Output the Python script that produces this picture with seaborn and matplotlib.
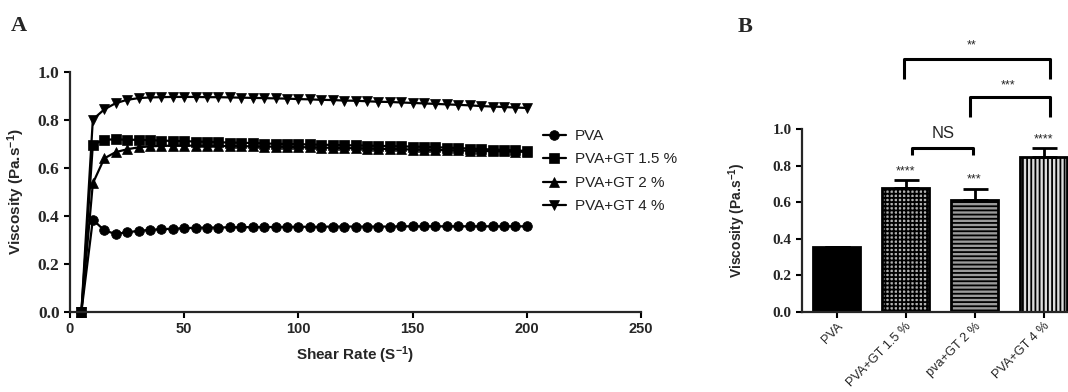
import numpy as np
import pandas as pd
import matplotlib
matplotlib.use("Agg")
import matplotlib.pyplot as plt
import seaborn as sns

# ---------------- data ----------------
shear_rate = [5, 10, 15, 20, 25, 30, 35, 40, 45, 50, 55, 60, 65, 70, 75, 80, 85, 90, 95, 100,
              105, 110, 115, 120, 125, 130, 135, 140, 145, 150, 155, 160, 165, 170, 175, 180,
              185, 190, 195, 200]
visc_pva = [0.0, 0.383, 0.338, 0.323, 0.330, 0.336, 0.340, 0.343, 0.345, 0.347, 0.349, 0.350,
            0.350, 0.351, 0.351, 0.352, 0.352, 0.352, 0.353, 0.353, 0.353, 0.353, 0.354, 0.354,
            0.354, 0.354, 0.354, 0.354, 0.355, 0.355, 0.355, 0.355, 0.355, 0.355, 0.355, 0.355,
            0.355, 0.355, 0.355, 0.355]
visc_gt15 = [0.0, 0.695, 0.716, 0.717, 0.716, 0.715, 0.714, 0.712, 0.711, 0.710, 0.708, 0.707,
             0.705, 0.704, 0.703, 0.702, 0.700, 0.699, 0.698, 0.697, 0.696, 0.695, 0.694, 0.693,
             0.692, 0.691, 0.690, 0.689, 0.688, 0.687, 0.686, 0.684, 0.683, 0.681, 0.679, 0.677,
             0.675, 0.673, 0.671, 0.669]
visc_gt2 = [0.0, 0.534, 0.638, 0.664, 0.676, 0.684, 0.688, 0.690, 0.691, 0.691, 0.691, 0.690,
            0.690, 0.689, 0.689, 0.688, 0.687, 0.687, 0.686, 0.685, 0.684, 0.683, 0.682, 0.681,
            0.680, 0.679, 0.678, 0.677, 0.676, 0.675, 0.674, 0.673, 0.672, 0.671, 0.670, 0.669,
            0.668, 0.667, 0.666, 0.665]
visc_gt4 = [0.0, 0.800, 0.842, 0.868, 0.882, 0.889, 0.892, 0.893, 0.894, 0.894, 0.894, 0.893,
            0.893, 0.892, 0.891, 0.890, 0.889, 0.888, 0.887, 0.885, 0.884, 0.882, 0.881, 0.879,
            0.878, 0.876, 0.874, 0.873, 0.871, 0.869, 0.867, 0.865, 0.863, 0.861, 0.859, 0.856,
            0.854, 0.852, 0.850, 0.848]
series_names = ["PVA", "PVA+GT 1.5 %", "PVA+GT 2 %", "PVA+GT 4 %"]

bar_labels = ["PVA", "PVA+GT 1.5 %", "pva+GT 2 %", "PVA+GT 4 %"]
bar_means = [0.355, 0.675, 0.611, 0.845]
bar_err = [0.0, 0.045, 0.063, 0.050]
bar_stars = ["", "****", "***", "****"]

# ---------------- style ----------------
sns.set_style("ticks")
plt.rcParams["font.family"] = ["Liberation Sans", "DejaVu Sans"]
plt.rcParams["mathtext.default"] = "regular"
plt.rcParams["hatch.linewidth"] = 1.3

fig = plt.figure(figsize=(10.68, 3.92), dpi=100)
W, H = 1068.0, 392.0

# ---------------- panel A ----------------
axA = fig.add_axes([70 / W, 1 - 311.5 / H, 571 / W, 240 / H])
dfA = pd.DataFrame({
    "Shear": shear_rate * 4,
    "Viscosity": visc_pva + visc_gt15 + visc_gt2 + visc_gt4,
    "Sample": sum([[n] * len(shear_rate) for n in series_names], []),
})
sns.lineplot(data=dfA, x="Shear", y="Viscosity", hue="Sample", style="Sample",
             hue_order=series_names, style_order=series_names,
             palette=["black"] * 4, markers=["o", "s", "^", "v"], dashes=False,
             linewidth=1.6, markersize=7, markeredgecolor="black", markeredgewidth=0.5,
             ax=axA, clip_on=False)
axA.set_xlim(0, 250)
axA.set_ylim(0, 1.0)
axA.set_xticks([0, 50, 100, 150, 200, 250])
axA.set_yticks([0.0, 0.2, 0.4, 0.6, 0.8, 1.0])
axA.set_yticklabels(["0.0", "0.2", "0.4", "0.6", "0.8", "1.0"])
for s in ["top", "right"]:
    axA.spines[s].set_visible(False)
for s in ["left", "bottom"]:
    axA.spines[s].set_linewidth(1.6)
axA.tick_params(direction="out", length=4, width=1.5, color="black")
for lab in axA.get_yticklabels():
    lab.set_fontfamily("Liberation Serif")
    lab.set_fontweight("bold")
    lab.set_fontsize(12.5)
for lab in axA.get_xticklabels():
    lab.set_fontweight("bold")
    lab.set_fontsize(10.5)
axA.set_xlabel("Shear Rate (S$^{-1}$)", fontsize=11, fontweight="bold", labelpad=6)
axA.set_ylabel("Viscosity (Pa.s$^{-1}$)", fontsize=11, fontweight="bold", labelpad=8)

leg = axA.legend(loc="upper left", bbox_to_anchor=(543 / W, 1 - 129 / H),
                 bbox_transform=fig.transFigure, frameon=False, fontsize=11,
                 handlelength=1.5, handletextpad=0.6, labelspacing=0.62,
                 borderpad=0, borderaxespad=0)
for t in leg.get_texts():
    t.set_color("#222222")

# ---------------- panel B ----------------
axB = fig.add_axes([802 / W, 1 - 311.7 / H, 276 / W, 1.55 * 182.7 / H])
dfB = pd.DataFrame({"Sample": bar_labels, "Viscosity": bar_means})
sns.barplot(data=dfB, x="Sample", y="Viscosity", hue="Sample", legend=False,
            palette=["black", "#b0b0b0", "#9a9a9a", "#dcdcdc"], width=0.69,
            edgecolor="black", linewidth=2.0, ax=axB)
hatches = [None, "++++", "----", "||||"]
for p, h in zip(axB.patches, hatches):
    if h:
        p.set_hatch(h)
axB.errorbar(range(len(bar_means)), bar_means,
             yerr=[[0] * len(bar_err), bar_err], fmt="none", ecolor="black",
             elinewidth=2, capsize=9, capthick=2)
axB.set_xlim(-0.5, 3.5)
axB.set_ylim(0, 1.55)
axB.set_yticks([0.0, 0.2, 0.4, 0.6, 0.8, 1.0])
axB.set_yticklabels(["0.0", "0.2", "0.4", "0.6", "0.8", "1.0"])
axB.spines["left"].set_bounds(0, 1.0)
for s in ["top", "right"]:
    axB.spines[s].set_visible(False)
for s in ["left", "bottom"]:
    axB.spines[s].set_linewidth(1.6)
axB.tick_params(direction="out", length=4, width=1.5, color="black")
axB.tick_params(axis="x", pad=2)
for lab in axB.get_yticklabels():
    lab.set_fontfamily("Liberation Serif")
    lab.set_fontweight("bold")
    lab.set_fontsize(11)
axB.set_xticks(range(4))
axB.set_xticklabels(bar_labels, rotation=45, ha="right", rotation_mode="anchor",
                    fontsize=9.2)
axB.set_xlabel("")
axB.set_ylabel("Viscosity (Pa.s$^{-1}$)", fontsize=10, fontweight="bold", labelpad=6)
axB.yaxis.set_label_coords(-0.195, 0.5 / 1.55, transform=axB.transAxes)

for i, (m, e, s) in enumerate(zip(bar_means, bar_err, bar_stars)):
    if s:
        axB.text(i, m + e + 0.05, s, ha="center", va="center", fontsize=9)

def bracket(ax, x1, x2, ytop, ybot, label, ly, lx=None, fs=9):
    ax.plot([x1, x1, x2, x2], [ybot, ytop, ytop, ybot], color="black", lw=2.2,
            clip_on=False, solid_capstyle="butt")
    ax.text((x1 + x2) / 2 if lx is None else lx, ly, label, ha="center", va="center",
            fontsize=fs, clip_on=False)

bracket(axB, 1.10, 1.98, 0.894, 0.858, "NS", 0.976, fs=12)
bracket(axB, 1.93, 3.09, 1.173, 1.067, "***", 1.241, lx=2.48, fs=9)
bracket(axB, 0.98, 3.09, 1.381, 1.274, "**", 1.46, lx=1.96, fs=9)

# panel letters
fig.text(19 / W, 1 - 26 / H, "A", fontsize=16, fontweight="bold",
         family="Liberation Serif", ha="center", va="center")
fig.text(745 / W, 1 - 27 / H, "B", fontsize=16, fontweight="bold",
         family="Liberation Serif", ha="center", va="center")

fig.savefig("out.png", dpi=100)
